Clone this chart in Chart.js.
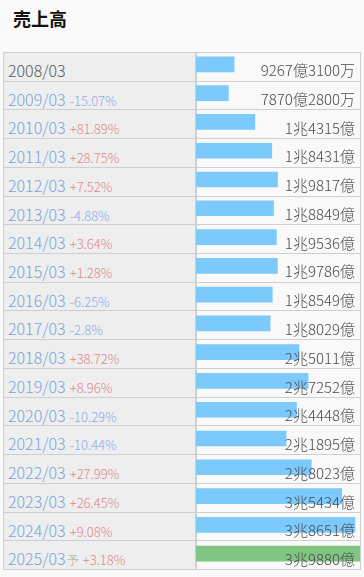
<!DOCTYPE html>
<html lang="ja">
<head>
<meta charset="utf-8">
<script src="https://cdn.jsdelivr.net/npm/chart.js@4"></script>
<style>
  html, body { margin: 0; padding: 0; background: #f9f9f9; width: 364px; height: 577px; overflow: hidden; }
  body { font-family: "Noto Sans CJK JP", "Noto Sans", sans-serif; position: relative; }
  h1 { position: absolute; left: 13px; top: 5px; margin: 0; font-size: 18px; font-weight: bold; color: #111; }
  .grid { position: absolute; left: 3px; top: 52px; width: 358px; height: 518px;
          display: grid; grid-template-rows: repeat(18, 1fr); box-sizing: border-box; }
  #rows { border: 1px solid #cfcfcf; border-bottom: none; }
  .row { position: relative; border-bottom: 1px solid #cfcfcf; }
  .left { position: absolute; left: 0; top: 0; bottom: 0; width: 191px; background: #eeeeee;
          border-right: 2px solid #cfcfcf; }
  .lbl { position: absolute; left: 4px; top: 7px; line-height: 20px; white-space: nowrap; font-weight: 300; }
  .yr { font-size: 16px; color: #7aa4da; }
  .yr.first { color: #5a5a5a; }
  .fc { font-size: 12px; color: #9aaa9a; margin-left: 1px; }
  .pct { font-size: 13px; margin-left: 4px; }
  .up { color: #df868c; }
  .down { color: #8aabef; }
  #chartBox { position: absolute; left: 196px; top: 50px; width: 164px; height: 518px; }
  #vals { pointer-events: none; }
  .val { position: relative; }
  .val span { position: absolute; right: 6px; top: 8px; line-height: 20px; font-size: 15px; font-weight: 300;
              color: #4a4a4a; white-space: nowrap; }
</style>
</head>
<body>
<h1>売上高</h1>
<div id="rows" class="grid"></div>
<div id="chartBox"><canvas id="salesChart" width="164" height="518"></canvas></div>
<div id="vals" class="grid"></div>
<script>
// 決算期
const periods = ['2008/03', '2009/03', '2010/03', '2011/03', '2012/03', '2013/03', '2014/03', '2015/03', '2016/03',
                 '2017/03', '2018/03', '2019/03', '2020/03', '2021/03', '2022/03', '2023/03', '2024/03', '2025/03'];
// 前期比
const changes = [null, '-15.07%', '+81.89%', '+28.75%', '+7.52%', '-4.88%', '+3.64%', '+1.28%', '-6.25%',
                 '-2.8%', '+38.72%', '+8.96%', '-10.29%', '-10.44%', '+27.99%', '+26.45%', '+9.08%', '+3.18%'];
// 売上高 (億円)
const sales = [9267.31, 7870.28, 14315, 18431, 19817, 18849, 19536, 19786, 18549,
               18029, 25011, 27252, 24448, 21895, 28023, 35434, 38651, 39880];
// 表示ラベル
const valueLabels = ['9267億3100万', '7870億2800万', '1兆4315億', '1兆8431億', '1兆9817億', '1兆8849億', '1兆9536億',
                     '1兆9786億', '1兆8549億', '1兆8029億', '2兆5011億', '2兆7252億', '2兆4448億', '2兆1895億',
                     '2兆8023億', '3兆5434億', '3兆8651億', '3兆9880億'];
// 予想フラグ
const forecast = [false, false, false, false, false, false, false, false, false,
                  false, false, false, false, false, false, false, false, true];

const rowsEl = document.getElementById('rows');
const valsEl = document.getElementById('vals');
periods.forEach(function (p, i) {
    const row = document.createElement('div');
    row.className = 'row';
    let html = '<div class="left"><div class="lbl"><span class="yr' + (i === 0 ? ' first' : '') + '">' + p + '</span>';
    if (forecast[i]) html += '<span class="fc">予</span>';
    if (changes[i]) {
        const cls = changes[i].charAt(0) === '-' ? 'down' : 'up';
        html += '<span class="pct ' + cls + '">' + changes[i] + '</span>';
    }
    html += '</div></div>';
    row.innerHTML = html;
    rowsEl.appendChild(row);

    const v = document.createElement('div');
    v.className = 'val';
    v.innerHTML = '<span>' + valueLabels[i] + '</span>';
    valsEl.appendChild(v);
});

new Chart(document.getElementById('salesChart').getContext('2d'), {
    type: 'bar',
    data: {
        labels: periods,
        datasets: [{
            data: sales,
            backgroundColor: forecast.map(f => f ? '#80c581' : '#7cc9fc'),
            borderWidth: 0,
            barThickness: 15
        }]
    },
    options: {
        indexAxis: 'y',
        responsive: false,
        animation: false,
        layout: { padding: 0 },
        plugins: { legend: { display: false }, tooltip: { enabled: false } },
        scales: {
            x: { display: false, min: 0, max: 39880 },
            y: { display: false, offset: true }
        }
    }
});
</script>
</body>
</html>
